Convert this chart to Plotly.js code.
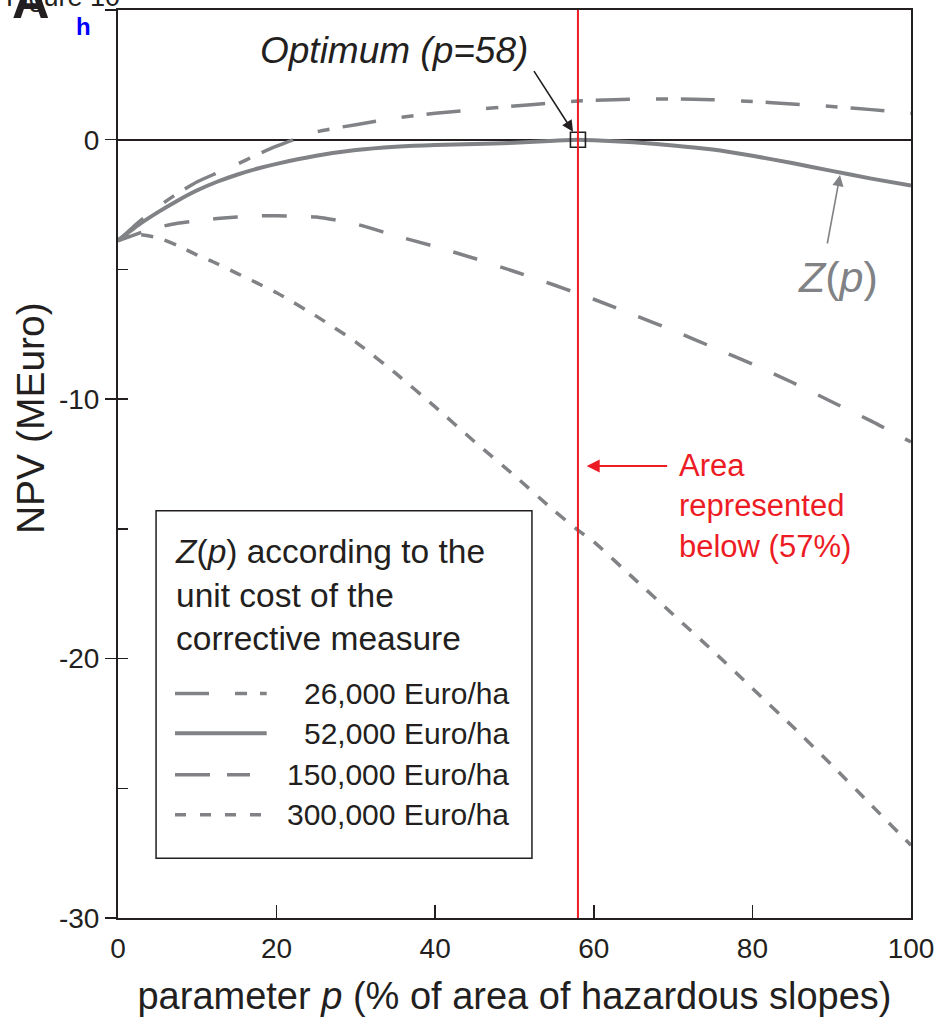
<!DOCTYPE html>
<html>
<head>
<meta charset="utf-8">
<script src="https://cdn.plot.ly/plotly-3.0.1.min.js"></script>
<style>
  html, body { margin: 0; padding: 0; background: #ffffff; }
  #chart { width: 945px; height: 1030px; }
</style>
</head>
<body>
<div id="chart"></div>
<script>
// ---- Data ----
const pValues = [0, 2.5, 5, 7.5, 10, 12.5, 15, 17.5, 20, 25, 30, 35, 40, 45, 50, 55, 58, 60, 65, 70, 75, 80, 85, 90, 95, 100];

const npv26000 = [-3.9, -3.2, -2.6, -2.07, -1.62, -1.28, -0.95, -0.58, -0.25, 0.3, 0.58, 0.83, 1.02, 1.16, 1.3, 1.42, 1.49, 1.52, 1.56, 1.57, 1.54, 1.47, 1.38, 1.28, 1.16, 1.02];
const npv52000 = [-3.88, -3.3, -2.8, -2.35, -1.95, -1.62, -1.35, -1.12, -0.93, -0.62, -0.4, -0.27, -0.2, -0.17, -0.12, -0.04, 0, -0.02, -0.1, -0.22, -0.38, -0.62, -0.9, -1.2, -1.5, -1.77];
const npv150000 = [-3.9, -3.62, -3.38, -3.22, -3.12, -3.04, -2.98, -2.94, -2.93, -2.98, -3.25, -3.7, -4.12, -4.58, -5.08, -5.6, -5.93, -6.15, -6.75, -7.35, -8.0, -8.65, -9.35, -10.1, -10.85, -11.65];
const npv300000 = [-3.85, -3.66, -3.78, -4.08, -4.45, -4.78, -5.15, -5.52, -5.9, -6.8, -7.8, -9.0, -10.3, -11.65, -12.95, -14.3, -15.05, -15.5, -16.9, -18.3, -19.7, -21.15, -22.6, -24.1, -25.65, -27.2];

const seriesNames = ["26,000 Euro/ha", "52,000 Euro/ha", "150,000 Euro/ha", "300,000 Euro/ha"];

const optimumP = [58];
const optimumNPV = [0];
const areaP = 58;

const xTickVals = [0, 20, 40, 60, 80, 100];
const yTickVals = [5, 0, -10, -20, -30];
const yTickText = ["5", "0", "-10", "-20", "-30"];
const yTickValsInner = [-25, -20, -15, -10, -5];

// ---- Styles ----
const FONT = "Liberation Sans, Arial, Helvetica, sans-serif";
const GRAY = "#808285";
const BLACK = "#231f20";
const RED = "#ed1c24";

const dash26 = "34px,26px,12px,13px";
const dash150 = "25px,24px";
const dash300 = "12px,12px";

const traces = [
  { x: pValues, y: npv26000, name: seriesNames[0], mode: "lines",
    line: { color: GRAY, width: 3.5, dash: dash26, shape: "spline", smoothing: 0.6 }, hoverinfo: "skip" },
  { x: pValues, y: npv150000, name: seriesNames[2], mode: "lines",
    line: { color: GRAY, width: 3.5, dash: dash150, shape: "spline", smoothing: 0.6 }, hoverinfo: "skip" },
  { x: pValues, y: npv300000, name: seriesNames[3], mode: "lines",
    line: { color: GRAY, width: 3.5, dash: dash300, shape: "spline", smoothing: 0.6 }, hoverinfo: "skip" },
  { x: pValues, y: npv52000, name: seriesNames[1], mode: "lines",
    line: { color: GRAY, width: 4, shape: "spline", smoothing: 0.6 }, hoverinfo: "skip" },
  { x: optimumP, y: optimumNPV, yaxis: "y2", mode: "markers", name: "Optimum",
    marker: { symbol: "square-open", size: 15, color: BLACK, line: { width: 1.6, color: BLACK } }, hoverinfo: "skip" }
];

// Legend geometry (layout positions, data coordinates)
const legX0 = 7.19, legX1 = 18.75, legTextX = 49.6;
const legRowsY = [-21.35, -22.88, -24.48, -26.02];
const legDashes = ["34px,26px,12px,13px", "solid", "35px,17px,23px,30px", "11px,14px"];
const legWidths = [3.5, 4, 3.5, 3.5];

const shapes = [
  { type: "line", xref: "x", yref: "paper", x0: areaP, x1: areaP, y0: 0, y1: 1,
    line: { color: RED, width: 2 }, layer: "above" },
  { type: "rect", xref: "x", yref: "y", x0: 4.8, x1: 52.2, y0: -14.3, y1: -27.7,
    line: { color: BLACK, width: 1.5 }, fillcolor: "rgba(255,255,255,0)", layer: "above" }
];
legRowsY.forEach((yy, i) => {
  shapes.push({ type: "line", xref: "x", yref: "y", x0: legX0, x1: legX1, y0: yy, y1: yy,
    line: { color: GRAY, width: legWidths[i], dash: legDashes[i] }, layer: "above" });
});

const annotations = [
  // y axis title
  { xref: "paper", yref: "y", x: 0, y: -10.73, xshift: -88, text: "NPV (MEuro)", textangle: -90,
    showarrow: false, font: { family: FONT, size: 39, color: BLACK }, xanchor: "center", yanchor: "middle" },
  // Optimum label + arrow
  { xref: "x", yref: "y", x: 34.8, y: 3.43, text: "<i>Optimum (p=58)</i>", showarrow: false,
    font: { family: FONT, size: 37, color: BLACK }, xanchor: "center", yanchor: "middle" },
  { xref: "x", yref: "y", x: 57.38, y: 0.31, ax: -40, ay: -62, text: "", showarrow: true,
    arrowhead: 2, arrowsize: 1.4, arrowwidth: 1.6, arrowcolor: BLACK, standoff: 0 },
  // Z(p) label + arrow
  { xref: "x", yref: "y", x: 90.8, y: -5.29, text: "<i>Z</i>(<i>p</i>)", showarrow: false,
    font: { family: FONT, size: 43, color: GRAY }, xanchor: "center", yanchor: "middle" },
  { xref: "x", yref: "y", x: 91.05, y: -1.36, ax: -13, ay: 70, text: "", showarrow: true,
    arrowhead: 2, arrowsize: 1.4, arrowwidth: 1.6, arrowcolor: GRAY, standoff: 0 },
  // Area represented below
  { xref: "x", yref: "y", x: 70.5, y: -14.1, text: "Area<br>represented<br>below (57%)", showarrow: false,
    align: "left", font: { family: FONT, size: 31, color: RED }, xanchor: "left", yanchor: "middle" },
  { xref: "x", yref: "y", x: 59.1, y: -12.58, ax: 82, ay: 0, text: "", showarrow: true,
    arrowhead: 2, arrowsize: 1.3, arrowwidth: 2, arrowcolor: RED, standoff: 0 },
  // Legend title
  { xref: "x", yref: "y", x: legX0 - 0.3, y: -17.54, text: "<i>Z</i>(<i>p</i>) according to the<br>unit cost of the<br>corrective measure",
    showarrow: false, align: "left", font: { family: FONT, size: 33.5, color: BLACK }, xanchor: "left", yanchor: "middle" },
  // Figure corner marks
  { xref: "paper", yref: "paper", x: 0, y: 1, xshift: -55, yshift: 13.4, text: "Figure 10", showarrow: false,
    font: { family: FONT, size: 27, color: BLACK }, xanchor: "center", yanchor: "middle" },
  { xref: "paper", yref: "paper", x: 0, y: 1, xshift: -87, yshift: 10, text: "<b>A</b>", showarrow: false,
    font: { family: FONT, size: 52, color: BLACK }, xanchor: "center", yanchor: "middle" },
  { xref: "paper", yref: "paper", x: 0, y: 1, xshift: -34.5, yshift: -16.7, text: "<b>h</b>", showarrow: false,
    font: { family: FONT, size: 24, color: "#0000ff" }, xanchor: "center", yanchor: "middle" }
];
seriesNames.forEach((nm, i) => {
  annotations.push({ xref: "x", yref: "y", x: legTextX, y: legRowsY[i], text: nm, showarrow: false,
    font: { family: FONT, size: 30, color: BLACK }, xanchor: "right", yanchor: "middle" });
});

const layout = {
  width: 945, height: 1030,
  margin: { l: 118, r: 34, t: 10, b: 112, pad: 0 },
  paper_bgcolor: "#ffffff", plot_bgcolor: "#ffffff",
  showlegend: false,
  font: { family: FONT, color: BLACK },
  xaxis: {
    range: [0, 100], tickmode: "array", tickvals: xTickVals,
    ticks: "inside", ticklen: 13, tickwidth: 1.5, tickcolor: BLACK,
    showline: true, mirror: true, linecolor: BLACK, linewidth: 2,
    showgrid: false, zeroline: false,
    tickfont: { family: FONT, size: 28, color: BLACK }, ticklabelstandoff: 4,
    title: { text: "parameter <i>p</i> (% of area of hazardous slopes)", font: { family: FONT, size: 38, color: BLACK }, standoff: 20 }
  },
  yaxis: {
    range: [-30, 5], tickmode: "array", tickvals: yTickVals, ticktext: yTickText,
    ticks: "outside", ticklen: 11, tickwidth: 1.5, tickcolor: BLACK,
    showline: true, mirror: true, linecolor: BLACK, linewidth: 2,
    showgrid: false, zeroline: true, zerolinecolor: BLACK, zerolinewidth: 2,
    tickfont: { family: FONT, size: 28, color: BLACK }
  },
  yaxis2: {
    overlaying: "y", side: "left", range: [-30, 5], tickmode: "array", tickvals: yTickValsInner,
    ticks: "inside", ticklen: 10, tickwidth: 1.5, tickcolor: BLACK,
    showticklabels: false, showline: false, showgrid: false, zeroline: false
  },
  shapes: shapes,
  annotations: annotations
};

Plotly.newPlot("chart", traces, layout, { displayModeBar: false, staticPlot: true });
</script>
</body>
</html>
